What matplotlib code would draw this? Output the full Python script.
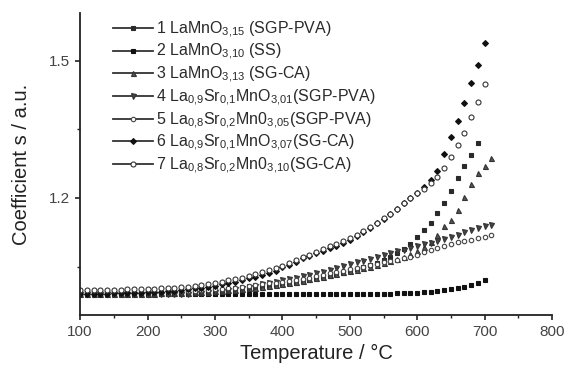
import numpy as np
import matplotlib
matplotlib.use("Agg")
import matplotlib.pyplot as plt
from matplotlib.lines import Line2D

plt.rcParams["font.family"] = ["Liberation Sans", "DejaVu Sans"]
plt.rcParams["mathtext.default"] = "regular"

# temperature grid (deg C), measured every 10 degrees
t_700 = np.arange(100, 701, 10)
t_690 = np.arange(100, 691, 10)
t_710 = np.arange(100, 711, 10)

# coefficient s (a.u.) for each sample
s1 = [0.990, 0.990, 0.990, 0.990, 0.990, 0.990, 0.990, 0.990, 0.990, 0.990,
      0.990, 0.990, 0.991, 0.991, 0.991, 0.992, 0.992, 0.993, 0.993, 0.994,
      0.995, 0.996, 0.997, 0.998, 0.999, 1.001, 1.003, 1.005, 1.007, 1.009,
      1.011, 1.013, 1.015, 1.018, 1.021, 1.024, 1.027, 1.030, 1.033, 1.036,
      1.040, 1.044, 1.048, 1.053, 1.058, 1.064, 1.071, 1.079, 1.088, 1.100,
      1.115, 1.130, 1.145, 1.167, 1.190, 1.215, 1.244, 1.270, 1.294, 1.320]
s2 = [0.990, 0.990, 0.990, 0.990, 0.990, 0.990, 0.990, 0.990, 0.990, 0.990,
      0.990, 0.990, 0.989, 0.989, 0.989, 0.989, 0.989, 0.989, 0.989, 0.989,
      0.989, 0.989, 0.989, 0.989, 0.989, 0.989, 0.989, 0.989, 0.989, 0.989,
      0.989, 0.989, 0.989, 0.989, 0.989, 0.990, 0.990, 0.990, 0.990, 0.990,
      0.990, 0.990, 0.990, 0.991, 0.991, 0.991, 0.991, 0.992, 0.992, 0.993,
      0.993, 0.994, 0.995, 0.996, 0.998, 1.000, 1.003, 1.006, 1.010, 1.014,
      1.020]
s3 = [0.991, 0.991, 0.991, 0.991, 0.991, 0.991, 0.991, 0.991, 0.991, 0.991,
      0.991, 0.991, 0.992, 0.992, 0.992, 0.993, 0.993, 0.994, 0.994, 0.995,
      0.996, 0.997, 0.998, 0.999, 1.000, 1.002, 1.004, 1.006, 1.008, 1.010,
      1.012, 1.014, 1.016, 1.019, 1.022, 1.025, 1.028, 1.031, 1.034, 1.037,
      1.040, 1.043, 1.046, 1.050, 1.054, 1.058, 1.062, 1.067, 1.072, 1.078,
      1.085, 1.093, 1.103, 1.120, 1.139, 1.152, 1.174, 1.202, 1.230, 1.255,
      1.270, 1.288]
s4 = [0.989, 0.989, 0.989, 0.989, 0.989, 0.989, 0.989, 0.989, 0.989, 0.989,
      0.989, 0.989, 0.990, 0.990, 0.990, 0.991, 0.991, 0.992, 0.993, 0.994,
      0.995, 0.997, 0.999, 1.001, 1.003, 1.005, 1.008, 1.011, 1.014, 1.017,
      1.020, 1.023, 1.026, 1.029, 1.032, 1.035, 1.039, 1.043, 1.047, 1.051,
      1.055, 1.059, 1.063, 1.067, 1.071, 1.075, 1.079, 1.083, 1.087, 1.091,
      1.095, 1.099, 1.102, 1.106, 1.110, 1.115, 1.120, 1.125, 1.130, 1.134,
      1.138, 1.141]
s5 = [0.995, 0.995, 0.995, 0.995, 0.995, 0.995, 0.995, 0.995, 0.995, 0.995,
      0.995, 0.995, 0.995, 0.996, 0.996, 0.996, 0.997, 0.997, 0.998, 0.999,
      1.000, 1.001, 1.002, 1.003, 1.005, 1.007, 1.009, 1.011, 1.013, 1.015,
      1.017, 1.019, 1.021, 1.023, 1.026, 1.029, 1.032, 1.035, 1.038, 1.041,
      1.044, 1.047, 1.050, 1.053, 1.056, 1.059, 1.062, 1.065, 1.068, 1.072,
      1.076, 1.081, 1.086, 1.090, 1.095, 1.099, 1.103, 1.106, 1.109, 1.112,
      1.115, 1.119]
s6 = [0.991, 0.991, 0.991, 0.991, 0.991, 0.992, 0.992, 0.992, 0.993, 0.993,
      0.994, 0.994, 0.995, 0.996, 0.997, 0.998, 1.000, 1.002, 1.004, 1.006,
      1.008, 1.011, 1.014, 1.017, 1.020, 1.024, 1.028, 1.032, 1.036, 1.041,
      1.048, 1.054, 1.061, 1.068, 1.073, 1.079, 1.085, 1.091, 1.096, 1.102,
      1.108, 1.117, 1.126, 1.135, 1.145, 1.155, 1.166, 1.177, 1.188, 1.199,
      1.210, 1.225, 1.240, 1.260, 1.296, 1.334, 1.369, 1.408, 1.452, 1.491,
      1.540]
s7 = [0.998, 0.998, 0.998, 0.998, 0.999, 0.999, 0.999, 1.000, 1.000, 1.000,
      1.001, 1.001, 1.002, 1.003, 1.004, 1.005, 1.006, 1.008, 1.010, 1.012,
      1.014, 1.017, 1.020, 1.023, 1.026, 1.030, 1.034, 1.038, 1.042, 1.047,
      1.052, 1.058, 1.064, 1.070, 1.076, 1.082, 1.088, 1.094, 1.100, 1.106,
      1.112, 1.120, 1.128, 1.137, 1.146, 1.156, 1.166, 1.177, 1.188, 1.199,
      1.210, 1.220, 1.232, 1.245, 1.265, 1.290, 1.316, 1.342, 1.377, 1.410,
      1.450]

labels = [
    "1 LaMnO$_{3{,}15}$ (SGP-PVA)",
    "2 LaMnO$_{3{,}10}$ (SS)",
    "3 LaMnO$_{3{,}13}$ (SG-CA)",
    "4 La$_{0{,}9}$Sr$_{0{,}1}$MnO$_{3{,}01}$(SGP-PVA)",
    "5 La$_{0{,}8}$Sr$_{0{,}2}$Mn0$_{3{,}05}$(SGP-PVA)",
    "6 La$_{0{,}9}$Sr$_{0{,}1}$MnO$_{3{,}07}$(SG-CA)",
    "7 La$_{0{,}8}$Sr$_{0{,}2}$Mn0$_{3{,}10}$(SG-CA)",
]

series = [(t_690, s1), (t_700, s2), (t_710, s3), (t_710, s4),
          (t_710, s5), (t_700, s6), (t_700, s7)]
# marker, size, face colour, edge colour
styles = [
    ("s", 2.6, "#2a2a2a", "#2a2a2a"),
    ("s", 3.2, "#111111", "#111111"),
    ("^", 3.6, "#555555", "#333333"),
    ("v", 3.6, "#444444", "#333333"),
    ("o", 3.2, "white", "#444444"),
    ("D", 3.0, "#111111", "#111111"),
    ("o", 3.6, "white", "#333333"),
]

fig = plt.figure(figsize=(5.68, 3.68), dpi=100)
ax = fig.add_axes([0.141, 0.144, 0.831, 0.821])

handles = []
for (t, s), (m, ms, fc, ec), lab in zip(series, styles, labels):
    ax.plot(t, s, linestyle="none", marker=m, ms=ms, mfc=fc, mec=ec, mew=0.8)
    handles.append(Line2D([], [], color="#333333", lw=1.3, marker=m, ms=ms,
                          mfc=fc, mec=ec, mew=0.8, label=lab))

ax.legend(handles=handles, loc="upper left", bbox_to_anchor=(0.05, 1.01),
          frameon=False, fontsize=11.5, handlelength=2.5, handletextpad=0.2,
          labelspacing=0.15, borderaxespad=0.2, labelcolor="#2a2a2a")

ax.set_xlim(100, 800)
ax.set_ylim(0.944, 1.605)
ax.set_xticks(np.arange(100, 801, 100))
ax.set_xticks(np.arange(150, 800, 100), minor=True)
ax.set_yticks([1.2, 1.5])
ax.set_yticks([1.05, 1.35], minor=True)
ax.set_yticklabels(["1.2", "1.5"])

for side in ("top", "right"):
    ax.spines[side].set_visible(False)
for side in ("left", "bottom"):
    ax.spines[side].set_linewidth(1.3)
    ax.spines[side].set_color("#222222")

ax.tick_params(which="major", direction="out", length=3.5, width=1.2,
               labelsize=11, labelcolor="#444444", color="#222222")
ax.tick_params(which="minor", direction="out", length=2, width=1.0,
               color="#222222")

ax.set_xlabel("Temperature / °C", fontsize=14.5, color="#222222", labelpad=4)
ax.set_ylabel("Coefficient s / a.u.", fontsize=14.5, color="#222222", labelpad=13)

fig.savefig("out.png", dpi=100)
